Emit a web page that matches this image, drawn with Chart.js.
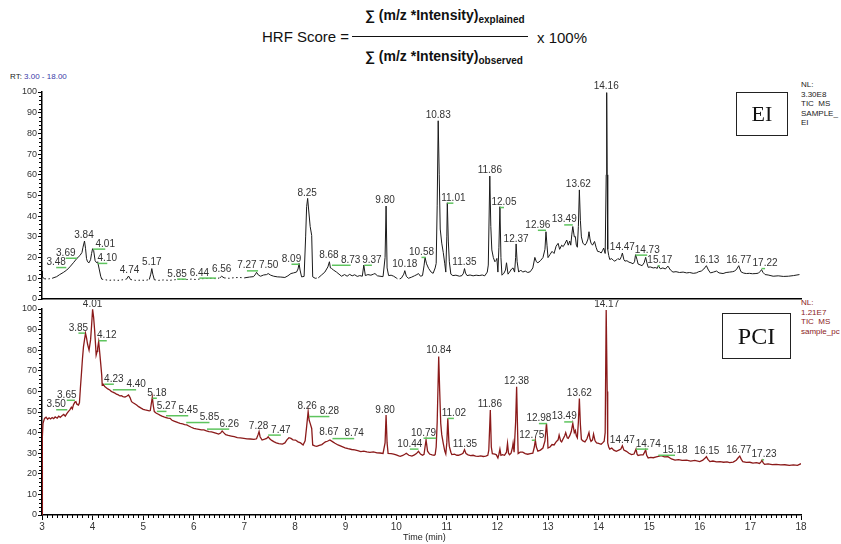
<!DOCTYPE html>
<html>
<head>
<meta charset="utf-8">
<script src="https://cdn.jsdelivr.net/npm/chart.js@4.4.0/dist/chart.umd.min.js"></script>
<style>
  body { margin: 0; background: #fff; font-family: "Liberation Sans", Arial, sans-serif; }
  #wrap { position: relative; width: 841px; height: 544px; overflow: hidden; }
  .abs { position: absolute; white-space: nowrap; }
  .f15 { font-size: 15px; color: #111; }
  .frac { font-size: 14px; font-weight: bold; color: #111; }
  .frac sub { font-size: 10px; vertical-align: -3px; }
  .nl { font-size: 8px; line-height: 9.5px; color: #222; }
  .box { position: absolute; border: 1.5px solid #222; font-family: "Liberation Serif", "Times New Roman", serif; color: #111; display: flex; align-items: center; justify-content: center; }
  canvas { position: absolute; left: 0; }
</style>
</head>
<body>
<div id="wrap">
  <div class="abs f15" style="left:262px; top:28px;">HRF Score =</div>
  <div class="abs" style="left:352px; top:36px; width:176px; height:1px; background:#111;"></div>
  <div class="abs frac" style="left:365px; top:7px;">∑ (m/z *Intensity)<sub>explained</sub></div>
  <div class="abs frac" style="left:365px; top:48px;">∑ (m/z *Intensity)<sub>observed</sub></div>
  <div class="abs f15" style="left:537px; top:29px;">x 100%</div>

  <div class="abs" style="left:10px; top:72px; font-size:8px; color:#222;">RT: <span style="color:#3a3aa8;">3.00 - 18.00</span></div>

  <div class="abs nl" style="left:801px; top:80px;">NL:<br>3.30E8<br>TIC&nbsp; MS<br>SAMPLE_<br>EI</div>
  <div class="abs nl" style="left:801px; top:298px; color:#8b1a1a;">NL:<br>1.21E7<br>TIC&nbsp; MS<br>sample_pc</div>

  <canvas id="eiChart" width="841" height="232" style="top:78px;"></canvas>
  <canvas id="pciChart" width="841" height="244" style="top:300px;"></canvas>

  <div class="box" style="left:736px; top:92px; width:50px; height:42px; font-size:22px;">EI</div>
  <div class="box" style="left:722px; top:313px; width:67px; height:44px; font-size:24px;">PCI</div>

  <div class="abs" style="left:403px; top:532px; font-size:9px; color:#222;">Time (min)</div>
</div>
<script>
// EI trace (retention time in min, relative abundance %)
const eiTime = [3.00,3.01,3.05,3.10,3.15,3.20,3.29,3.35,3.42,3.49,3.55,3.62,3.69,3.75,3.79,3.81,3.84,3.86,3.88,3.90,3.93,3.96,3.98,4.00,4.02,4.05,4.08,4.10,4.13,4.16,4.18,4.25,4.32,4.40,4.50,4.60,4.67,4.71,4.75,4.85,4.95,5.05,5.12,5.15,5.17,5.19,5.22,5.30,5.40,5.52,5.62,5.72,5.86,5.95,6.05,6.15,6.25,6.35,6.45,6.52,6.55,6.60,6.70,6.80,6.90,7.00,7.10,7.18,7.22,7.24,7.28,7.32,7.38,7.44,7.47,7.52,7.58,7.65,7.72,7.80,7.86,7.92,7.97,8.03,8.06,8.08,8.10,8.13,8.18,8.21,8.23,8.25,8.27,8.30,8.33,8.35,8.40,8.46,8.52,8.59,8.65,8.68,8.70,8.72,8.76,8.82,8.87,8.92,8.98,9.03,9.08,9.13,9.18,9.23,9.28,9.33,9.36,9.39,9.44,9.50,9.55,9.58,9.63,9.68,9.74,9.78,9.80,9.82,9.85,9.90,9.95,10.00,10.04,10.10,10.15,10.17,10.20,10.24,10.30,10.36,10.41,10.44,10.48,10.52,10.55,10.57,10.60,10.64,10.69,10.73,10.77,10.79,10.81,10.83,10.85,10.87,10.90,10.93,10.96,10.98,11.00,11.01,11.03,11.05,11.08,11.12,11.18,11.25,11.30,11.33,11.35,11.37,11.40,11.46,11.52,11.58,11.64,11.70,11.75,11.80,11.82,11.85,11.87,11.89,11.92,11.95,11.97,11.99,12.01,12.03,12.05,12.07,12.09,12.13,12.16,12.18,12.21,12.24,12.28,12.31,12.34,12.36,12.37,12.39,12.42,12.46,12.50,12.55,12.60,12.65,12.70,12.74,12.77,12.80,12.85,12.90,12.94,12.96,12.98,13.00,13.04,13.08,13.12,13.16,13.20,13.23,13.27,13.30,13.34,13.37,13.40,13.43,13.45,13.47,13.49,13.52,13.54,13.56,13.58,13.60,13.62,13.64,13.66,13.69,13.73,13.76,13.79,13.81,13.83,13.85,13.88,13.92,13.95,13.98,14.02,14.05,14.08,14.10,14.13,14.15,14.16,14.17,14.18,14.20,14.22,14.26,14.30,14.32,14.36,14.38,14.42,14.45,14.47,14.50,14.52,14.56,14.60,14.64,14.68,14.71,14.73,14.76,14.78,14.82,14.86,14.90,14.93,14.96,14.98,15.02,15.08,15.12,15.16,15.18,15.22,15.27,15.32,15.37,15.42,15.47,15.53,15.60,15.67,15.74,15.80,15.87,15.93,15.98,16.03,16.08,16.13,16.17,16.21,16.27,16.33,16.38,16.46,16.52,16.59,16.65,16.69,16.73,16.77,16.80,16.82,16.87,16.92,16.98,17.04,17.11,17.16,17.20,17.22,17.25,17.29,17.35,17.45,17.55,17.65,17.75,17.85,17.92,17.97];
const eiIntensity = [13.5,10.5,9.8,9.6,9.8,10.0,10.8,11.8,12.8,14.0,15.5,17.5,19.6,21.0,22.5,25.0,28.0,24.5,19.5,18.0,17.5,19.0,22.0,24.3,23.5,18.5,17.5,18.0,14.5,11.0,9.6,9.3,9.0,9.2,9.0,9.3,9.6,11.1,9.4,9.0,9.1,9.0,9.4,12.0,14.7,12.0,9.3,9.0,9.2,9.0,9.3,9.5,9.4,9.6,9.4,9.8,9.9,10.0,9.8,10.3,11.0,10.2,10.0,10.3,10.4,10.2,10.6,10.8,12.0,12.9,11.5,11.0,11.6,11.8,12.3,11.5,11.0,10.7,10.6,10.4,11.2,12.3,12.6,13.0,14.5,17.2,14.0,10.7,10.9,30.0,44.6,48.6,43.0,35.0,30.7,10.7,10.0,10.2,11.5,13.0,15.5,18.0,15.0,14.8,14.0,13.0,12.0,11.0,11.8,11.0,11.9,11.2,11.7,10.9,11.3,11.0,16.4,11.3,11.8,11.5,12.0,12.3,11.2,11.0,10.8,20.0,44.9,15.0,11.3,11.5,11.0,10.2,9.5,10.0,12.0,13.7,11.0,10.0,10.5,11.2,11.8,12.3,11.0,11.3,16.0,20.1,17.0,14.8,13.0,12.4,15.0,17.2,45.0,86.1,60.0,33.8,27.0,22.5,17.0,13.0,30.0,46.5,28.0,18.0,12.0,11.3,11.5,11.0,11.3,12.5,14.7,12.5,11.3,11.6,11.2,11.5,11.3,11.6,11.2,13.0,16.4,59.4,35.0,23.7,20.0,18.0,18.5,19.6,13.0,25.0,44.6,20.0,11.5,12.5,14.0,17.5,12.0,13.0,14.5,15.0,13.0,20.0,26.6,18.0,13.0,14.0,13.0,13.5,12.8,13.2,15.0,20.1,18.0,17.5,18.5,20.0,24.0,32.5,26.0,20.0,21.5,23.0,22.0,25.5,26.9,24.0,26.0,25.3,27.0,28.5,26.0,28.0,26.0,31.0,35.0,30.0,30.2,26.0,25.0,35.0,52.7,38.0,30.0,27.0,26.0,27.0,29.0,32.5,29.0,27.0,26.0,27.8,25.0,23.0,22.8,22.2,23.5,24.6,22.0,60.0,99.7,60.0,24.0,21.0,19.1,19.5,18.5,18.3,19.0,19.5,19.0,20.5,22.2,19.0,18.3,18.5,17.8,17.5,17.0,18.0,21.4,19.0,16.9,16.5,16.1,17.5,20.1,17.0,15.3,15.5,15.0,15.2,14.8,16.1,14.6,15.0,14.5,15.9,14.0,13.0,13.2,12.8,13.0,12.6,12.8,12.4,12.6,13.2,13.5,14.5,16.1,14.0,12.6,13.0,13.5,12.6,12.3,12.8,13.0,13.2,13.5,14.5,16.1,14.0,13.0,12.5,12.3,12.4,12.2,12.3,12.5,13.5,14.2,12.8,11.8,11.6,11.0,11.2,10.9,11.0,11.3,11.6,11.8];

// PCI trace
const pciTime = [3.00,3.005,3.01,3.02,3.05,3.08,3.11,3.14,3.17,3.20,3.23,3.26,3.30,3.33,3.36,3.40,3.43,3.46,3.49,3.52,3.55,3.58,3.60,3.62,3.65,3.67,3.69,3.72,3.74,3.76,3.78,3.80,3.82,3.84,3.86,3.88,3.90,3.93,3.96,3.98,4.00,4.02,4.04,4.06,4.07,4.09,4.10,4.12,4.14,4.16,4.18,4.19,4.21,4.24,4.27,4.30,4.34,4.37,4.40,4.44,4.47,4.50,4.54,4.57,4.60,4.64,4.68,4.71,4.74,4.77,4.80,4.84,4.87,4.91,4.95,5.00,5.04,5.08,5.12,5.14,5.16,5.18,5.20,5.22,5.26,5.30,5.33,5.37,5.41,5.45,5.49,5.53,5.57,5.61,5.65,5.69,5.73,5.78,5.82,5.86,5.90,5.95,6.00,6.05,6.10,6.15,6.20,6.25,6.30,6.35,6.40,6.45,6.49,6.53,6.56,6.59,6.63,6.68,6.74,6.80,6.86,6.92,6.99,7.05,7.12,7.19,7.24,7.27,7.29,7.31,7.35,7.40,7.44,7.47,7.50,7.54,7.58,7.63,7.68,7.75,7.80,7.84,7.88,7.92,7.96,8.01,8.06,8.11,8.16,8.20,8.23,8.26,8.28,8.30,8.33,8.35,8.39,8.43,8.48,8.53,8.57,8.60,8.64,8.69,8.74,8.79,8.85,8.92,8.99,9.05,9.12,9.18,9.24,9.30,9.36,9.42,9.48,9.55,9.62,9.68,9.74,9.78,9.80,9.82,9.84,9.90,9.95,10.00,10.05,10.08,10.13,10.17,10.20,10.25,10.31,10.36,10.40,10.44,10.48,10.52,10.55,10.57,10.59,10.62,10.66,10.71,10.75,10.77,10.79,10.81,10.84,10.86,10.88,10.90,10.93,10.96,10.98,11.00,11.02,11.04,11.05,11.08,11.10,11.15,11.20,11.23,11.28,11.32,11.35,11.38,11.42,11.47,11.52,11.57,11.62,11.67,11.72,11.77,11.81,11.83,11.86,11.88,11.90,11.95,11.98,12.01,12.03,12.05,12.07,12.10,12.14,12.18,12.20,12.22,12.24,12.27,12.30,12.31,12.33,12.36,12.38,12.40,12.41,12.45,12.50,12.55,12.60,12.65,12.70,12.73,12.75,12.77,12.80,12.85,12.90,12.94,12.97,12.99,13.00,13.04,13.08,13.12,13.16,13.20,13.22,13.25,13.27,13.30,13.33,13.35,13.38,13.40,13.43,13.46,13.49,13.52,13.54,13.56,13.58,13.60,13.62,13.64,13.66,13.69,13.73,13.77,13.81,13.83,13.85,13.88,13.90,13.93,13.96,14.00,14.05,14.08,14.11,14.13,14.15,14.17,14.18,14.20,14.22,14.26,14.30,14.35,14.40,14.44,14.47,14.50,14.55,14.60,14.65,14.70,14.72,14.74,14.76,14.78,14.83,14.88,14.91,14.93,14.95,14.98,15.03,15.08,15.14,15.20,15.24,15.30,15.37,15.44,15.51,15.58,15.65,15.74,15.82,15.90,16.00,16.06,16.10,16.13,16.16,16.20,16.26,16.33,16.40,16.47,16.54,16.59,16.66,16.72,16.76,16.79,16.82,16.85,16.92,16.99,17.05,17.12,17.18,17.21,17.23,17.25,17.28,17.35,17.43,17.51,17.60,17.68,17.77,17.85,17.93,18.00];
const pciIntensity = [0,20,38,44.5,46.9,47.5,46.5,47.2,46.6,47.3,46.8,47.6,47.0,48.0,47.4,48.3,48.8,48.0,49.2,50.2,51.0,52.3,51.5,53.4,54.8,55.0,53.8,53.4,54.5,62.0,68.8,76.0,81.7,85.0,88.2,86.0,83.0,80.0,85.0,92.0,99.8,96.0,89.8,82.0,77.6,79.5,81.0,84.1,79.0,73.6,68.0,63.1,63.5,62.3,61.8,61.2,60.7,60.0,59.6,59.2,58.7,58.4,57.8,57.9,57.5,57.2,57.8,58.3,57.0,55.0,54.5,53.9,53.4,52.6,52.0,51.3,51.0,50.8,50.6,50.7,54.0,57.2,53.0,50.2,49.4,48.9,48.5,48.0,47.6,47.3,47.0,46.9,46.0,45.6,45.2,44.8,44.5,44.2,43.9,43.7,43.2,42.6,42.1,41.8,41.6,41.3,41.3,40.8,40.5,40.3,40.0,39.6,39.3,39.8,40.8,40.0,39.0,38.6,38.3,38.0,37.6,37.4,37.2,37.0,36.9,36.7,37.0,39.0,40.5,38.0,36.4,36.8,37.2,38.0,37.0,36.2,35.6,35.0,34.6,34.4,35.0,36.5,37.5,37.2,36.5,36.4,35.5,35.0,34.0,36.0,42.9,50.2,46.0,44.5,42.0,34.0,33.6,33.3,33.8,34.2,35.0,35.5,35.8,36.4,35.6,34.8,34.0,33.3,32.6,32.2,31.8,31.6,31.2,30.8,31.0,30.6,30.4,30.6,30.2,30.1,29.9,35.0,48.5,35.0,29.9,29.8,29.6,29.2,28.7,28.5,28.9,29.5,30.0,29.0,28.6,29.2,29.8,30.9,29.6,29.0,29.4,33.0,36.4,31.0,29.6,29.2,29.0,29.3,33.0,45.0,76.9,60.0,44.5,39.0,34.8,31.0,29.6,35.0,46.9,36.0,33.3,30.5,29.3,29.5,29.0,29.0,29.4,30.0,31.7,29.8,29.2,28.8,29.0,28.6,28.5,28.7,28.4,28.6,29.0,31.5,51.0,33.0,29.8,29.5,29.2,27.7,29.5,32.0,29.0,29.3,29.0,30.5,34.8,30.0,29.3,30.0,33.0,34.8,30.5,45.0,62.3,40.0,29.8,30.5,30.5,29.8,29.5,29.8,30.0,33.0,36.4,33.0,31.0,31.5,32.5,36.0,44.5,38.0,32.5,33.0,34.2,34.0,35.5,36.5,38.8,36.0,35.5,37.0,38.5,40.0,37.5,37.2,38.5,40.5,44.5,40.0,41.0,38.5,37.5,45.0,56.6,44.0,36.7,36.0,35.5,37.0,40.0,37.0,35.8,36.5,39.3,36.0,35.0,34.8,34.3,35.0,35.8,40.0,99.5,60.0,35.0,33.0,32.0,32.5,31.5,30.9,31.5,32.0,33.6,31.5,30.9,30.0,29.3,29.6,30.8,32.0,29.5,28.9,29.2,29.2,30.5,31.7,29.0,27.7,28.0,27.8,28.2,28.6,28.8,28.2,28.3,27.2,26.6,26.9,26.5,26.6,26.2,26.5,25.9,26.6,27.5,28.3,27.0,25.9,26.2,25.8,25.9,25.6,25.8,25.4,25.7,26.6,27.8,28.6,27.0,25.9,25.5,25.6,25.2,25.4,25.0,25.8,26.7,25.4,24.6,24.8,24.5,24.6,24.3,24.4,24.1,24.3,24.1,24.9];

// peak annotations: label text, label centre (min), label baseline (%)
const eiPeakText = ['3.48','3.69','3.84','4.01','4.10','4.74','5.17','5.85','6.44','6.56','7.27','7.50','8.09','8.25','8.68','8.73','9.37','9.80','10.18','10.58','10.83','11.01','11.35','11.86','12.05','12.37','12.96','13.49','13.62','14.16','14.47','14.73','15.17','16.13','16.77','17.22'];
const eiPeakX = [3.28,3.47,3.83,4.25,4.29,4.73,5.17,5.67,6.11,6.55,7.05,7.48,7.93,8.24,8.67,9.10,9.52,9.78,10.17,10.50,10.83,11.13,11.35,11.85,12.13,12.37,12.80,13.32,13.60,14.15,14.47,14.96,15.21,16.14,16.77,17.29];
const eiPeakY = [16.4,20.9,29.6,25.3,18.4,12.7,16.4,10.8,11.3,13.2,14.8,14.8,18.0,49.9,19.7,17.5,17.5,46.2,15.6,21.3,87.6,47.5,16.4,61.0,45.4,27.7,34.4,37.0,54.3,101.3,23.7,22.4,17.2,17.5,17.5,15.9];

const pciPeakText = ['3.50','3.65','3.85','4.01','4.12','4.23','4.40','5.18','5.27','5.45','5.85','6.26','7.28','7.47','8.26','8.28','8.67','8.74','9.80','10.44','10.79','10.84','11.02','11.35','11.86','12.38','12.75','12.98','13.49','13.62','14.17','14.47','14.74','15.18','16.15','16.77','17.23'];
const pciPeakX = [3.28,3.49,3.72,4.00,4.28,4.42,4.86,5.27,5.46,5.89,6.31,6.70,7.28,7.72,8.24,8.68,8.67,9.17,9.78,10.27,10.54,10.84,11.14,11.36,11.85,12.38,12.68,12.82,13.32,13.62,14.16,14.47,14.98,15.51,16.14,16.77,17.27];
const pciPeakY = [52.3,56.9,89.5,101.1,85.8,64.7,62.0,57.9,51.5,49.4,46.1,42.9,41.6,40.0,51.3,49.0,38.8,38.3,49.7,33.2,38.5,78.5,48.1,33.2,52.3,63.6,37.5,45.6,46.4,57.9,101.1,34.8,33.2,30.2,29.6,30.2,28.0];

const xTicks = [3, 18];
const yTicks = [0, 100];

const FONT = '"Liberation Sans", Arial, sans-serif';

const peakLabels = {
  id: 'peakLabels',
  afterDatasetsDraw(chart, args, opts) {
    const { ctx } = chart;
    const x = chart.scales.x, y = chart.scales.y;
    ctx.save();
    ctx.font = '10px ' + FONT;
    ctx.textAlign = 'center';
    ctx.textBaseline = 'alphabetic';
    opts.text.forEach((t, i) => {
      const px = x.getPixelForValue(opts.xs[i]);
      const py = y.getPixelForValue(opts.ys[i]);
      const peak = parseFloat(t);
      if (Math.abs(peak - opts.xs[i]) > 0.03) {
        ctx.strokeStyle = '#5ec45e';
        ctx.lineWidth = 1.5;
        ctx.beginPath();
        ctx.moveTo(px, py + 2.5);
        ctx.lineTo(x.getPixelForValue(peak), py + 2.5);
        ctx.stroke();
      }
      ctx.fillStyle = '#333';
      ctx.fillText(t, px, py);
    });
    ctx.restore();
  }
};

const minorTicks = {
  id: 'minorTicks',
  afterDraw(chart, args, opts) {
    const { ctx, chartArea } = chart;
    const x = chart.scales.x, y = chart.scales.y;
    ctx.save();
    ctx.strokeStyle = '#000';
    ctx.lineWidth = 1;
    ctx.beginPath();
    for (let v = yTicks[0]; v <= yTicks[1]; v += 2) {
      if (v % 10 === 0) continue;
      const py = Math.round(y.getPixelForValue(v)) + 0.5;
      ctx.moveTo(chartArea.left - 3, py);
      ctx.lineTo(chartArea.left, py);
    }
    if (opts.xMinor) {
      for (let k = xTicks[0] * 10; k <= xTicks[1] * 10; k++) {
        if (k % 10 === 0) continue;
        const px = Math.round(x.getPixelForValue(k / 10)) + 0.5;
        ctx.moveTo(px, chartArea.bottom);
        ctx.lineTo(px, chartArea.bottom + 3);
      }
    }
    ctx.stroke();
    ctx.restore();
  }
};

function makePanel(id, times, values, color, width, labels, showX) {
  const pts = times.map((t, i) => ({ x: t, y: values[i] }));
  return new Chart(document.getElementById(id), {
    type: 'line',
    data: {
      datasets: [{
        data: pts,
        borderColor: color,
        borderWidth: width,
        pointRadius: 0,
        tension: 0,
        segment: showX ? {} : {
          borderDash: ctx => (ctx.p0.parsed.y < 10.5 && ctx.p1.parsed.y < 10.5) ? [1.5, 2.5] : undefined
        }
      }]
    },
    options: {
      responsive: false,
      animation: false,
      layout: { padding: showX ? { top: 9, right: 40, bottom: 0, left: 0 } : { top: 14, right: 40, bottom: 11, left: 0 } },
      plugins: {
        legend: { display: false },
        tooltip: { enabled: false },
        peakLabels: labels,
        minorTicks: { xMinor: showX }
      },
      scales: {
        x: {
          type: 'linear',
          min: xTicks[0],
          max: xTicks[1],
          afterFit: s => { s.height = showX ? 29 : 0; },
          border: { display: true, color: '#000', width: 1.5 },
          grid: { display: showX, drawOnChartArea: false, color: '#000', tickLength: 5 },
          ticks: {
            display: showX,
            stepSize: 1,
            autoSkip: false,
            maxRotation: 0,
            padding: 1,
            color: '#333',
            font: { family: FONT, size: 10 }
          }
        },
        y: {
          min: yTicks[0],
          max: yTicks[1],
          afterFit: s => { s.width = 42; },
          border: { display: true, color: '#000', width: 1.5 },
          grid: { drawOnChartArea: false, color: '#000', tickLength: 4 },
          ticks: {
            stepSize: 10,
            padding: 1,
            color: '#333',
            font: { family: FONT, size: 9 }
          }
        }
      }
    },
    plugins: [peakLabels, minorTicks]
  });
}

makePanel('eiChart', eiTime, eiIntensity, '#1a1a1a', 1,
  { text: eiPeakText, xs: eiPeakX, ys: eiPeakY }, false);
makePanel('pciChart', pciTime, pciIntensity, '#8b1a1a', 1.3,
  { text: pciPeakText, xs: pciPeakX, ys: pciPeakY }, true);
</script>
</body>
</html>
